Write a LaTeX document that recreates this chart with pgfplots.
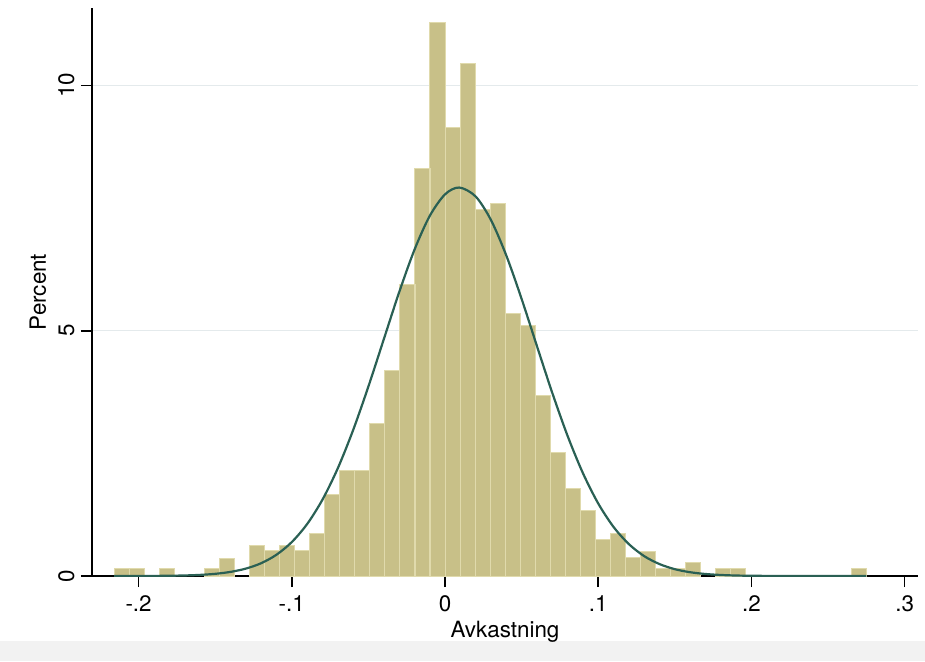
\documentclass[border=0pt]{standalone}
\usepackage{fontspec}
\setmainfont{TeX Gyre Heros}
\usepackage{pgfplots}
\pgfplotsset{compat=1.18}
\definecolor{barfill}{RGB}{200,192,136}
\definecolor{baredge}{RGB}{224,218,172}
\definecolor{normline}{RGB}{42,96,84}
\definecolor{gridc}{RGB}{228,234,236}
\definecolor{stripgray}{RGB}{242,242,242}
\begin{document}
\begin{tikzpicture}
\fill[stripgray] (0,0) rectangle (462.5pt,10pt);
\path[use as bounding box] (0,0) rectangle (462.5pt,330.5pt);
\begin{axis}[
  at={(46pt,42.5pt)}, anchor=south west,
  scale only axis, width=413pt, height=284pt,
  xmin=-0.2304, xmax=0.3087, ymin=0, ymax=11.58,
  axis lines*=left,
  axis line style={line width=0.75pt, black},
  tick align=outside,
  major tick length=5.5pt,
  tick style={line width=0.75pt, black},
  xtick={-0.2,-0.1,0,0.1,0.2,0.3},
  xticklabels={{-.2},{-.1},0,{.1},{.2},{.3}},
  ytick={0,5,10},
  yticklabels={0,5,10},
  ymajorgrids, grid style={gridc, line width=0.6pt},
  font=\fontsize{11.2}{13}\selectfont,
  yticklabel style={rotate=90, anchor=base, inner sep=0pt},
  xticklabel style={anchor=base, inner sep=0pt},
  xticklabel shift=12pt,
  yticklabel shift=3.5pt,
  xlabel={Avkastning}, ylabel={Percent},
  every axis x label/.style={at={([yshift=-30.5pt]axis description cs:0.5,0)}, anchor=base},
  every axis y label/.style={at={([xshift=-27pt]axis description cs:0,0.5)}, rotate=90, anchor=center},
]
\addplot[ybar, bar width=0.00982, bar shift=0pt, fill=barfill, draw=baredge, line width=0.5pt] coordinates {
(-0.2111,0.15) (-0.2013,0.15) (-0.1816,0.15) (-0.1522,0.15) (-0.1424,0.36)
(-0.1227,0.62) (-0.1129,0.51) (-0.1031,0.62) (-0.0933,0.51) (-0.0835,0.86)
(-0.0736,1.67) (-0.0638,2.16) (-0.0540,2.16) (-0.0442,3.10) (-0.0344,4.18)
(-0.0245,5.95) (-0.0147,8.31) (-0.0049,11.29) (0.0049,9.14) (0.0147,10.44)
(0.0245,7.48) (0.0344,7.60) (0.0442,5.36) (0.0540,5.11) (0.0638,3.69)
(0.0736,2.51) (0.0835,1.79) (0.0933,1.33) (0.1031,0.74) (0.1129,0.87)
(0.1227,0.37) (0.1326,0.50) (0.1424,0.15) (0.1522,0.15) (0.1620,0.28)
(0.1816,0.15) (0.1914,0.15) (0.2700,0.15)
};
\addplot[normline, line width=1.1pt, smooth] coordinates {
(-0.216,0.0003) (-0.20,0.001) (-0.19,0.0024) (-0.18,0.0053) (-0.17,0.0112)
(-0.16,0.0228) (-0.15,0.0446) (-0.14,0.0838) (-0.13,0.151) (-0.12,0.261)
(-0.11,0.434) (-0.10,0.692) (-0.09,1.059) (-0.08,1.556) (-0.07,2.195)
(-0.06,2.973) (-0.05,3.864) (-0.04,4.823) (-0.03,5.779) (-0.02,6.647)
(-0.01,7.340) (0,7.781) (0.0093,7.92) (0.02,7.737) (0.03,7.257)
(0.04,6.534) (0.05,5.649) (0.06,4.687) (0.07,3.734) (0.08,2.856)
(0.09,2.097) (0.10,1.478) (0.11,1.000) (0.12,0.650) (0.13,0.405)
(0.14,0.243) (0.15,0.139) (0.16,0.077) (0.17,0.041) (0.18,0.021)
(0.19,0.010) (0.20,0.005) (0.22,0.0008) (0.24,0.0001) (0.275,0)
};
\end{axis}
\end{tikzpicture}
\end{document}
